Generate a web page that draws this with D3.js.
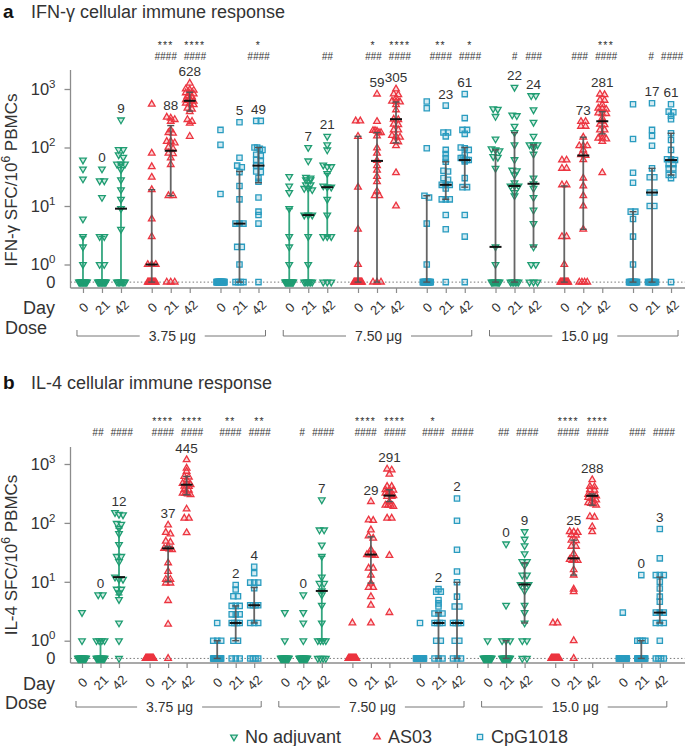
<!DOCTYPE html>
<html>
<head>
<meta charset="utf-8">
<script src="https://cdn.jsdelivr.net/npm/d3@7"></script>
<style>
  body { margin: 0; background: #fff; }
  svg { display: block; font-family: "Liberation Sans", Arial, Helvetica, sans-serif; }
</style>
</head>
<body>
<svg id="chart" width="685" height="746"></svg>
<script>
const doses = ['3.75 μg', '7.50 μg', '15.0 μg'];
const adjuvants = ['No adjuvant', 'AS03', 'CpG1018'];
const days = [0, 21, 42];
// 27 columns, ordered dose -> adjuvant -> day

// IFN-γ: non-zero responders per column, count of zero responders,
// bar value (labelled for day 21/42) and whisker range
const ifnValues = [
  [61, 43, 29, 6, 3, 2, 1],
  [43, 27, 27, 14, 3, 3, 1, 1],
  [296, 92, 92, 75, 68, 52, 52, 52, 42, 28, 19, 13, 9, 4],
  [550, 80, 47, 31, 19, 6, 3, 1, 1, 1],
  [330, 318, 300, 280, 200, 180, 175, 127, 127, 120, 101, 95, 80, 78, 66, 51, 15, 15],
  [1260, 1000, 975, 950, 860, 840, 820, 750, 730, 650, 640, 630, 620, 570, 560, 540, 470, 450, 410, 300, 280, 260, 155],
  [200, 111, 16],
  [270, 67, 49, 46, 38, 22, 13, 5, 5, 5, 2, 2, 1],
  [285, 285, 100, 100, 95, 91, 75, 72, 62, 60, 49, 49, 39, 38, 30, 26, 14, 8, 7, 5],
  [32, 22, 17, 9, 3, 2, 1],
  [100, 59, 31, 30, 28, 28, 23, 23, 20, 20, 19, 7, 7, 7, 3, 1],
  [155, 111, 91, 50, 47, 47, 36, 22, 21, 21, 13, 7, 3, 3, 3],
  [285, 285, 155, 21, 4, 1],
  [818, 278, 195, 195, 190, 180, 180, 158, 98, 80, 60, 49, 41, 32, 26, 18, 15, 15],
  [1000, 820, 800, 700, 620, 610, 600, 540, 440, 305, 300, 250, 245, 200, 200, 160, 155, 150, 127, 125, 107, 37, 10],
  [610, 470, 97, 15, 14, 5, 1],
  [520, 180, 180, 155, 91, 77, 66, 57, 40, 39, 30, 28, 23, 23, 23, 20, 13, 13, 13, 7, 4],
  [818, 318, 200, 200, 171, 100, 97, 91, 75, 66, 66, 61, 61, 61, 58, 30, 21, 21, 7, 3],
  [460, 450, 340, 140, 95, 91, 88, 70, 68, 44, 2, 1],
  [1070, 360, 350, 230, 180, 111, 62, 41, 40, 34, 25, 22, 22, 22, 17, 15],
  [770, 770, 440, 270, 155, 111, 111, 111, 98, 77, 30, 24, 20, 14, 8.5, 5, 2, 1, 1],
  [61, 61, 44, 44, 23, 23, 3, 3, 1],
  [278, 278, 230, 230, 150, 107, 107, 107, 91, 75, 73, 62, 30, 22, 15, 10, 4],
  [818, 800, 650, 640, 540, 470, 460, 450, 390, 380, 380, 318, 281, 250, 245, 200, 200, 171, 144, 144, 140, 127, 37],
  [550, 140, 37, 25, 8, 8, 6, 3, 1],
  [570, 200, 158, 107, 44, 31, 31, 17, 17, 10, 10],
  [550, 410, 400, 350, 305, 175, 134, 91, 63, 63, 61, 52, 52, 44, 44, 34, 34, 30]
];
const ifnZeros = [12, 12, 7, 11, 3, 0, 18, 4, 1, 13, 6, 3, 14, 3, 0, 14, 1, 1, 8, 6, 3, 12, 4, 0, 12, 8, 1];
const ifnCenter = [0, 0, 9, 1, 88, 628, 0, 5, 49, 0, 7, 21, 0, 59, 305, 0, 23, 61, 2, 22, 24, 0, 73, 281, 0, 17, 61];
const ifnLow = [0, 0, 0, 0, 15, 420, 0, 0, 25, 0, 0, 3, 0, 0, 120, 0, 13, 21, 0, 0, 2, 0, 4, 171, 0, 0, 34];
const ifnHigh = [3, 3, 52, 19, 237, 880, 0, 39, 100, 9, 20, 36, 155, 180, 600, 15, 57, 100, 91, 180, 111, 22, 150, 410, 8, 44, 175];
const ifnStars = ['', '', '', '', '***', '****', '', '', '*', '', '', '', '', '*', '****', '', '**', '*', '', '', '', '', '', '***', '', '', ''];
const ifnHashes = ['', '', '', '', '####', '####', '', '', '####', '', '', '##', '', '###', '####', '', '####', '####', '', '#', '###', '', '###', '####', '', '#', '####'];

// IL-4
const il4Values = [
  [3, 1],
  [6, 6, 1, 1, 1, 1],
  [150, 140, 137, 98, 95, 81, 66, 43, 27, 27, 22, 12, 11, 11, 7.5, 7.5, 6.5, 5, 2, 1],
  [],
  [92, 69, 65, 49, 47, 37, 37, 36, 35, 21, 15, 11, 11, 9.5, 9.5, 4.8, 1.9],
  [1180, 850, 750, 615, 600, 540, 470, 460, 445, 420, 415, 365, 360, 320, 320, 310, 300, 172, 120, 120, 68],
  [2, 1, 1, 1],
  [8.8, 7.4, 5.7, 5.7, 3.9, 3.9, 3.9, 2.8, 2.8, 2.8, 2, 2, 2, 2, 1, 1],
  [18, 14, 9.7, 9.7, 9.7, 7.8, 4, 4, 4, 4, 2, 2, 2],
  [3, 1],
  [6, 3, 2, 1],
  [246, 76, 76, 42, 27, 12, 9.4, 9.4, 7, 6, 4, 2, 1, 1, 1, 1],
  [2],
  [230, 112, 110, 76, 60, 55, 35, 29, 29, 29, 28, 17, 17, 13, 9.5, 8, 8, 5.6, 4, 2],
  [820, 790, 670, 415, 415, 365, 365, 360, 320, 320, 310, 291, 280, 280, 230, 200, 200, 200, 190, 120, 120, 28, 3],
  [2],
  [7.5, 6.8, 6.8, 4.9, 4.3, 3.8, 2.9, 2.9, 2.9, 2, 2, 2, 2, 1, 1],
  [260, 109, 35, 15, 9.8, 5.6, 3.8, 3.8, 2, 2, 2, 2, 1, 1],
  [1],
  [44, 4, 1, 1, 1],
  [71, 53, 41, 30, 22, 22, 19, 13, 13, 9, 9, 9, 7, 4, 3, 2, 1, 1],
  [2, 2],
  [71, 70, 69, 63, 62, 51, 50, 40, 40, 30, 24, 23, 23, 23, 16, 13, 7.5, 6.8, 1],
  [540, 415, 410, 365, 360, 305, 300, 288, 270, 260, 245, 220, 215, 210, 200, 128, 125, 86, 71],
  [3],
  [13, 1, 1, 1, 1],
  [79, 25, 13, 13, 13, 10, 7.7, 5.6, 4.6, 3, 3, 3, 2, 2, 2, 1]
];
const il4Zeros = [18, 14, 1, 20, 1, 0, 16, 3, 4, 18, 16, 4, 19, 0, 0, 19, 3, 3, 19, 15, 2, 18, 1, 0, 19, 14, 4];
const il4Center = [0, 0, 12, 0, 37, 445, 0, 2, 4, 0, 0, 7, 0, 29, 291, 0, 2, 2, 0, 0, 9, 0, 25, 288, 0, 0, 3];
const il4Low = [0, 0, 6, 0, 10, 300, 0, 1, 2, 0, 0, 1, 0, 9.5, 230, 0, 0, 0, 0, 0, 2, 0, 13, 200, 0, 0, 2];
const il4High = [0, 1, 81, 0, 40, 615, 1, 3.9, 8, 0, 0, 27, 0, 58, 365, 0, 3, 9.8, 0, 1, 21, 0, 51, 310, 0, 1, 12];
const il4Stars = ['', '', '', '', '****', '****', '', '**', '**', '', '', '', '', '****', '****', '', '*', '', '', '', '', '', '****', '****', '', '', ''];
const il4Hashes = ['', '##', '####', '', '####', '####', '', '####', '####', '', '#', '####', '', '####', '####', '', '####', '####', '', '##', '####', '', '####', '####', '', '###', '####'];

const colors = ['#1f9d72', '#ec3540', '#2a9cc0'];
const axisColor = '#8c8c8c';
const textColor = '#333';
const axisX = 70.5;
const rightX = 685;
const zeroAt = 0.5; // where the "0" row sits on the log axis

const panels = [
  {
    letter: 'a', title: 'IFN-γ cellular immune response', yName: 'IFN-γ',
    values: ifnValues, zeros: ifnZeros, center: ifnCenter, low: ifnLow, high: ifnHigh,
    stars: ifnStars, hashes: ifnHashes,
    titleY: 18, top: 70, one: 264.5, thousand: 89, axisY: 288, xRange: [67.6, 686.4], inner: 19,
    starY: 49, hashY: 60, labelY: 180, dayY: 314, doseY: 334, bracketY: 336
  },
  {
    letter: 'b', title: 'IL-4 cellular immune response', yName: 'IL-4',
    values: il4Values, zeros: il4Zeros, center: il4Center, low: il4Low, high: il4High,
    stars: il4Stars, hashes: il4Hashes,
    titleY: 389, top: 447, one: 640.7, thousand: 464, axisY: 663, xRange: [66.7, 675.1], inner: 18.5,
    starY: 425, hashY: 436, labelY: 555, dayY: 690, doseY: 709, bracketY: 707
  }
];

const svg = d3.select('#chart');

const triUp = d3.symbol().type(d3.symbolTriangle).size(19)();
const square = d3.symbol().type(d3.symbolSquare).size(28)();

function drawMarker(sel, ai, x, y) {
  const m = sel.append('path')
    .attr('d', ai === 2 ? square : triUp)
    .attr('fill', colors[ai])
    .attr('fill-opacity', 0.2)
    .attr('stroke', colors[ai])
    .attr('stroke-width', 1.3);
  if (ai === 0) m.attr('transform', `translate(${x},${y}) rotate(180)`);
  else m.attr('transform', `translate(${x},${y})`);
  return m;
}

// spread points with (nearly) equal heights side by side
function swarm(vals, y) {
  const pts = vals.map((v) => ({ v, y: y(v) })).sort((a, b) => a.y - b.y);
  const groups = [];
  let g = null;
  pts.forEach((p) => {
    if (g && p.y - g[0].y < 2.5) g.push(p);
    else { g = [p]; groups.push(g); }
  });
  groups.forEach((grp) => {
    const k = grp.length;
    const step = k > 1 ? Math.min(4.6, 8 / (k - 1)) : 0;
    grp.forEach((p, i) => { p.dx = (i - (k - 1) / 2) * step; });
  });
  return pts;
}

// measuring helper
const measure = svg.append('text').attr('opacity', 0);
function textWidth(str, size, spacing) {
  if (!str) return 0;
  measure.attr('font-size', size).attr('letter-spacing', spacing || 0).text(str);
  return measure.node().getComputedTextLength();
}

panels.forEach((p) => {
  const g = svg.append('g');

  // titles
  g.append('text').attr('x', 3).attr('y', p.titleY)
    .attr('font-size', 19).attr('font-weight', 'bold').attr('fill', '#111').text(p.letter);
  g.append('text').attr('x', 31).attr('y', p.titleY)
    .attr('font-size', 18).attr('fill', textColor).text(p.title);

  const y = d3.scaleLog().domain([1, 1000]).range([p.one, p.thousand]);
  const yv = (v) => y(v > 0 ? v : zeroAt);
  const zeroY = y(zeroAt);

  const xGroup = d3.scaleBand().domain(d3.range(9)).range(p.xRange);
  const xDay = d3.scalePoint().domain(days).range([-p.inner, p.inner]);
  const groupCenter = (gi) => xGroup(gi) + xGroup.bandwidth() / 2;

  const cols = [];
  doses.forEach((dose, di) => adjuvants.forEach((adj, ai) => days.forEach((day) => {
    const i = cols.length;
    cols.push({ i, di, ai, day, gi: di * 3 + ai, x: groupCenter(di * 3 + ai) + xDay(day) });
  })));

  // zero reference line
  g.append('line').attr('x1', axisX).attr('x2', rightX).attr('y1', zeroY).attr('y2', zeroY)
    .attr('stroke', '#777').attr('stroke-width', 1).attr('stroke-dasharray', '1.5,2.2');

  // y axis
  g.append('line').attr('x1', axisX).attr('x2', axisX).attr('y1', p.top).attr('y2', p.axisY)
    .attr('stroke', axisColor).attr('stroke-width', 1.3);
  const ag = g.append('g').attr('transform', `translate(${axisX},0)`)
    .call(d3.axisLeft(y).tickValues([1, 10, 100, 1000]).tickSize(6).tickPadding(9).tickFormat(() => ''));
  ag.attr('font-family', null).attr('font-size', 16.5).attr('color', axisColor);
  ag.select('.domain').remove();
  ag.selectAll('.tick line').attr('stroke-width', 1.3);
  ag.selectAll('.tick text').attr('fill', textColor).each(function (d) {
    const t = d3.select(this);
    t.append('tspan').text('10');
    t.append('tspan').attr('dy', -7).attr('font-size', 11.5).text(Math.round(Math.log10(d)));
  });
  g.append('text').attr('x', axisX - 15).attr('y', zeroY).attr('dy', '0.36em')
    .attr('text-anchor', 'end').attr('font-size', 16.5).attr('fill', textColor).text('0');

  // y label
  const yl = g.append('text').attr('transform', `translate(17,${p.labelY}) rotate(-90)`)
    .attr('text-anchor', 'middle').attr('font-size', 17).attr('fill', textColor);
  yl.append('tspan').text(p.yName + ' SFC/10');
  yl.append('tspan').attr('dy', -7).attr('font-size', 12).text('6');
  yl.append('tspan').attr('dy', 7).text(' PBMCs');

  // x axis
  g.append('line').attr('x1', axisX).attr('x2', rightX).attr('y1', p.axisY).attr('y2', p.axisY)
    .attr('stroke', axisColor).attr('stroke-width', 1.3);
  d3.range(9).forEach((gi) => {
    const xg = g.append('g').attr('transform', `translate(${groupCenter(gi)},${p.axisY})`)
      .call(d3.axisBottom(xDay).tickSize(5).tickFormat((d) => String(d)));
    xg.attr('font-family', null).attr('font-size', 13).attr('color', axisColor);
    xg.select('.domain').remove();
    xg.selectAll('.tick line').attr('stroke-width', 1.2);
    xg.selectAll('.tick text').attr('fill', textColor).attr('y', 0).attr('dy', '0.35em')
      .attr('text-anchor', 'middle').attr('transform', 'translate(0,19.5) rotate(-45)');
  });

  g.append('text').attr('x', 23).attr('y', p.dayY).attr('font-size', 18).attr('fill', textColor).text('Day');
  g.append('text').attr('x', 5).attr('y', p.doseY).attr('font-size', 18).attr('fill', textColor).text('Dose');

  // dose brackets
  doses.forEach((dose, di) => {
    const first = cols[di * 9].x - 6;
    const last = cols[di * 9 + 8].x + 7;
    const mid = (first + last) / 2 + 1;
    const tw = textWidth(dose, 14);
    const by = p.bracketY;
    g.append('path')
      .attr('d', `M${first},${by - 6}V${by}H${mid - tw / 2 - 9}M${mid + tw / 2 + 9},${by}H${last}V${by - 6}`)
      .attr('fill', 'none').attr('stroke', '#777').attr('stroke-width', 1);
    g.append('text').attr('x', mid).attr('y', by).attr('dy', '0.36em').attr('text-anchor', 'middle')
      .attr('font-size', 14).attr('fill', textColor).text(dose);
  });

  // points
  const pg = g.append('g');
  cols.forEach((c) => {
    const zeros = d3.range(p.zeros[c.i]).map(() => 0);
    const pts = swarm(p.values[c.i].concat(zeros), yv);
    pts.forEach((pt) => drawMarker(pg, c.ai, c.x + pt.dx, pt.y));
  });

  // whiskers and bars
  const wg = g.append('g');
  cols.forEach((c) => {
    const hi = p.high[c.i];
    const wc = (c.ai === 0 && c.di < 2) ? colors[0] : '#555';
    if (hi > 0) {
      const y0 = yv(p.low[c.i]);
      const y1 = yv(hi);
      wg.append('line').attr('x1', c.x).attr('x2', c.x).attr('y1', y0).attr('y2', y1)
        .attr('stroke', wc).attr('stroke-width', 1.8).attr('opacity', 0.9);
      [y0, y1].forEach((yy) => {
        wg.append('line').attr('x1', c.x - 3.5).attr('x2', c.x + 3.5).attr('y1', yy).attr('y2', yy)
          .attr('stroke', wc).attr('stroke-width', 1.4);
      });
    }
    const cv = p.center[c.i];
    if (cv > 0) {
      wg.append('line').attr('x1', c.x - 6).attr('x2', c.x + 6).attr('y1', yv(cv)).attr('y2', yv(cv))
        .attr('stroke', '#111').attr('stroke-width', 2);
    }
  });

  // value labels over day 21 and day 42
  cols.filter((c) => c.day !== 0).forEach((c) => {
    const all = p.values[c.i].length ? p.values[c.i] : [0];
    const topY = yv(d3.max(all));
    g.append('text').attr('x', c.x).attr('y', topY - 7).attr('text-anchor', 'middle')
      .attr('font-size', 13.5).attr('fill', textColor).text(String(p.center[c.i]));
  });

  // significance marks, pushed apart when day 21 and day 42 both carry one
  d3.range(9).forEach((gi) => {
    const pair = [gi * 3 + 1, gi * 3 + 2].map((i) => ({
      i, x: cols[i].x,
      w: Math.max(textWidth(p.stars[i], 10.5, 1.2), textWidth(p.hashes[i], 10))
    }));
    if (pair[0].w && pair[1].w) {
      const gap = (pair[1].x - pair[1].w / 2) - (pair[0].x + pair[0].w / 2);
      if (gap < 7) {
        const s = (7 - gap) / 2;
        pair[0].x -= s;
        pair[1].x += s;
      }
    }
    pair.forEach((a) => {
      if (p.stars[a.i]) {
        g.append('text').attr('x', a.x).attr('y', p.starY).attr('text-anchor', 'middle')
          .attr('font-size', 10.5).attr('letter-spacing', 1.2).attr('fill', textColor).text(p.stars[a.i]);
      }
      if (p.hashes[a.i]) {
        g.append('text').attr('x', a.x).attr('y', p.hashY).attr('text-anchor', 'middle')
          .attr('font-size', 10).attr('font-style', 'italic').attr('fill', textColor).text(p.hashes[a.i]);
      }
    });
  });
});

// legend
const legendX = [234, 377, 480];
adjuvants.forEach((a, ai) => {
  drawMarker(svg, ai, legendX[ai], 737);
  svg.append('text').attr('x', legendX[ai] + 11).attr('y', 743)
    .attr('font-size', 18).attr('fill', textColor).text(a);
});
measure.remove();
</script>
</body>
</html>
